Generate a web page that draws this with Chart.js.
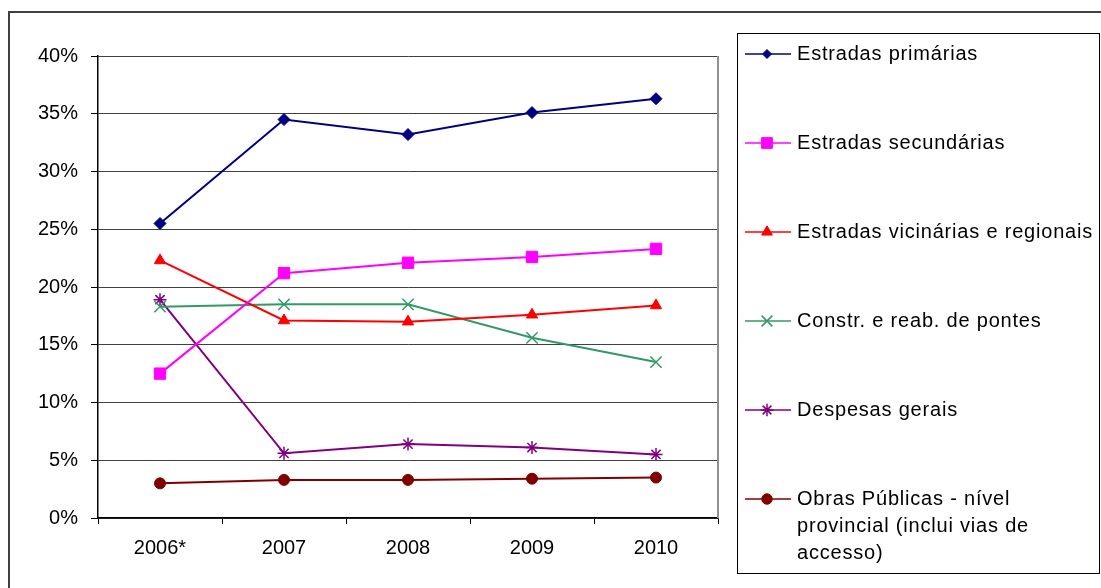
<!DOCTYPE html>
<html>
<head>
<meta charset="utf-8">
<script src="https://cdn.jsdelivr.net/npm/chart.js@4.4.1/dist/chart.umd.min.js"></script>
<style>
  html, body { margin: 0; padding: 0; background: #fff; overflow: hidden; }
</style>
</head>
<body>
<canvas id="chart" width="1101" height="588"></canvas>
<script>
  'use strict';

  // categories and series (percent of total)
  var YEARS = ['2006*', '2007', '2008', '2009', '2010'];
  var PRIMARIAS = [25.5, 34.5, 33.2, 35.1, 36.3];
  var SECUNDARIAS = [12.5, 21.2, 22.1, 22.6, 23.3];
  var VICINARIAS = [22.3, 17.1, 17.0, 17.6, 18.4];
  var PONTES = [18.3, 18.5, 18.5, 15.6, 13.5];
  var DESPESAS = [18.9, 5.6, 6.4, 6.1, 5.5];
  var OBRAS = [3.0, 3.3, 3.3, 3.4, 3.5];

  var LABELS = [
    'Estradas primárias',
    'Estradas secundárias',
    'Estradas vicinárias e regionais',
    'Constr. e reab. de pontes',
    'Despesas gerais',
    'Obras Públicas - nível\nprovincial (inclui vias de\naccesso)'
  ];
  var Y_TICKS = [0, 5, 10, 15, 20, 25, 30, 35, 40];

  var FONT = '"Liberation Sans", Arial, sans-serif';

  Chart.defaults.font.family = FONT;
  Chart.defaults.font.size = 20;
  Chart.defaults.color = '#000';

  function series(label, data, color, style, radius) {
    return {
      label: label,
      data: data,
      borderColor: color,
      backgroundColor: color,
      borderWidth: 2,
      pointStyle: style,
      pointRadius: radius,
      pointBorderWidth: style === 'crossRot' || style === 'star' ? 1.5 : 1,
      pointBorderColor: color,
      pointBackgroundColor: color,
      tension: 0,
      fill: false
    };
  }

  var datasets = [
    series(LABELS[0], PRIMARIAS, '#000080', 'rectRot', 6),
    series(LABELS[1], SECUNDARIAS, '#FF00FF', 'rect', 8),
    series(LABELS[2], VICINARIAS, '#FF0000', 'triangle', 6.5),
    series(LABELS[3], PONTES, '#339966', 'crossRot', 8),
    series(LABELS[4], DESPESAS, '#800080', 'star', 6.5),
    series(LABELS[5], OBRAS, '#800000', 'circle', 5.5)
  ];

  // white page, outer frame and right edge of the plot area
  var framePlugin = {
    id: 'frame',
    beforeDraw: function (chart) {
      var ctx = chart.ctx;
      ctx.save();
      ctx.fillStyle = '#fff';
      ctx.fillRect(0, 0, chart.width, chart.height);
      ctx.strokeStyle = '#404040';
      ctx.lineWidth = 2;
      ctx.strokeRect(9, 12, chart.width + 20, chart.height + 20);
      ctx.restore();
    },
    beforeDatasetsDraw: function (chart) {
      var a = chart.chartArea;
      var ctx = chart.ctx;
      ctx.save();
      ctx.strokeStyle = '#909090';
      ctx.lineWidth = 2;
      ctx.beginPath();
      ctx.moveTo(a.right, a.top);
      ctx.lineTo(a.right, a.bottom);
      ctx.stroke();
      ctx.restore();
    }
  };

  // boxed legend to the right, with a line+marker swatch per series
  var legendPlugin = {
    id: 'boxLegend',
    afterDraw: function (chart) {
      var ctx = chart.ctx;
      var box = { x: 737, y: 33, w: 362, h: 540 };
      ctx.save();
      ctx.strokeStyle = '#000';
      ctx.lineWidth = 1;
      ctx.strokeRect(box.x + 0.5, box.y + 0.5, box.w, box.h);

      ctx.font = '20px ' + FONT;
      ctx.textBaseline = 'middle';
      ctx.textAlign = 'left';
      ctx.fillStyle = '#000';
      if ('letterSpacing' in ctx) ctx.letterSpacing = '0.8px';

      chart.data.datasets.forEach(function (ds, i) {
        var cy = 54 + i * 89;
        ctx.strokeStyle = ds.borderColor;
        ctx.lineWidth = 1.5;
        ctx.beginPath();
        ctx.moveTo(745, cy);
        ctx.lineTo(791, cy);
        ctx.stroke();

        ctx.fillStyle = ds.pointBackgroundColor;
        ctx.strokeStyle = ds.pointBorderColor;
        ctx.lineWidth = ds.pointBorderWidth;
        Chart.helpers.drawPoint(ctx, {
          pointStyle: ds.pointStyle,
          radius: ds.pointRadius * (ds.pointStyle === 'rectRot' ? 0.75 : 0.95),
          rotation: 0,
          borderWidth: ds.pointBorderWidth
        }, 767, cy);

        ctx.fillStyle = '#000';
        ds.label.split('\n').forEach(function (line, k) {
          ctx.fillText(line, 797, cy + k * 27);
        });
      });
      ctx.restore();
    }
  };

  new Chart(document.getElementById('chart'), {
    type: 'line',
    data: { labels: YEARS, datasets: datasets },
    options: {
      responsive: false,
      animation: false,
      devicePixelRatio: 1,
      layout: { padding: { top: 56, right: 383, bottom: 0, left: 0 } },
      plugins: {
        legend: { display: false },
        tooltip: { enabled: false }
      },
      scales: {
        x: {
          type: 'category',
          offset: true,
          afterFit: function (s) { s.height = 70; },
          grid: {
            offset: true,
            drawOnChartArea: false,
            drawTicks: true,
            tickLength: 6,
            color: '#000'
          },
          border: { color: '#000', width: 1.5 },
          ticks: { padding: 12, color: '#000', font: { size: 20 } }
        },
        y: {
          min: 0,
          max: 40,
          afterFit: function (s) { s.width = 98; },
          afterBuildTicks: function (s) {
            s.ticks = Y_TICKS.map(function (v) { return { value: v }; });
          },
          grid: {
            color: '#404040',
            lineWidth: 1,
            drawTicks: true,
            tickLength: 7,
            tickColor: '#000'
          },
          border: { color: '#000', width: 1.5 },
          ticks: {
            padding: 13,
            color: '#000',
            font: { size: 20 },
            callback: function (v) { return v + '%'; }
          }
        }
      }
    },
    plugins: [framePlugin, legendPlugin]
  });
</script>
</body>
</html>
